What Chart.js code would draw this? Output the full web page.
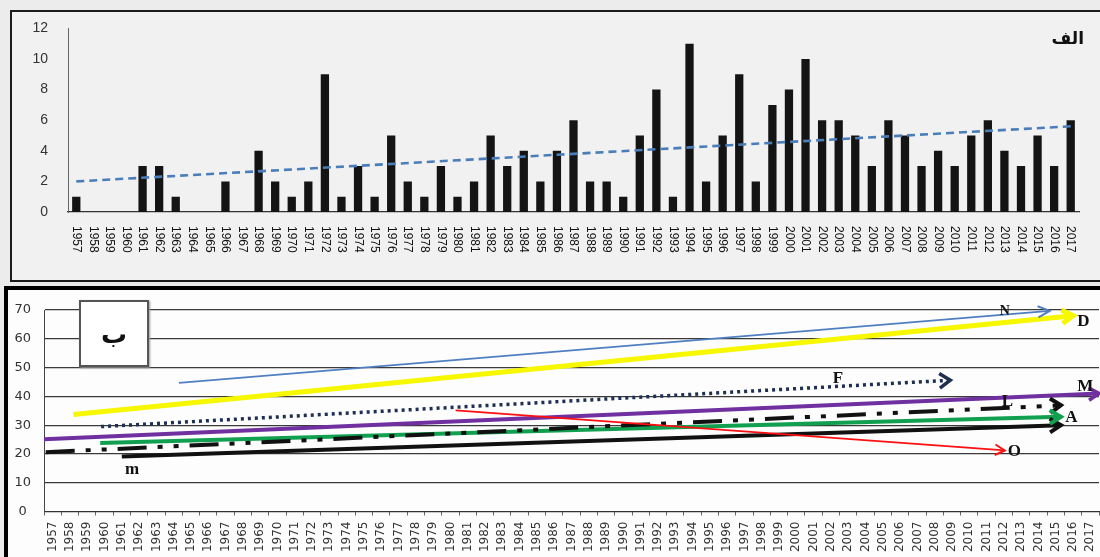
<!DOCTYPE html>
<html><head><meta charset="utf-8">
<script src="https://cdn.jsdelivr.net/npm/chart.js@4.4.1/dist/chart.umd.min.js"></script>
<style>
html,body{margin:0;padding:0;background:#ececec;width:1100px;height:557px;overflow:hidden;position:relative;}
#topFrame{position:absolute;left:10px;top:10px;width:1100px;height:272px;border:2px solid #1b1b1b;box-sizing:border-box;background:#f1f1f1;}
#botFrame{position:absolute;left:4px;top:286px;width:1110px;height:290px;border-left:4px solid #000;border-top:4px solid #000;box-sizing:border-box;background:#fdfdfd;}
#c1{position:absolute;left:0;top:0;}
#c2{position:absolute;left:0;top:287px;}
#alef{position:absolute;right:16px;top:28px;font:bold 17px 'DejaVu Sans',sans-serif;color:#111;direction:rtl;}
#beBox{position:absolute;left:79px;top:300px;width:70px;height:67px;border:2px solid #555;box-sizing:border-box;background:#fff;display:flex;align-items:center;justify-content:center;font:bold 26px 'DejaVu Sans',sans-serif;color:#111;box-shadow:1px 1px 2px #999;}
</style>
</head>
<body>
<div id="topFrame"></div>
<div id="botFrame"></div>
<canvas id="c1" width="1100" height="283"></canvas>
<canvas id="c2" width="1100" height="270"></canvas>
<div id="alef">الف</div>
<div id="beBox">ب</div>
<script>
// ---------- data ----------
const years = ['1957','1958','1959','1960','1961','1962','1963','1964','1965','1966','1967','1968','1969','1970','1971','1972','1973','1974','1975','1976','1977','1978','1979','1980','1981','1982','1983','1984','1985','1986','1987','1988','1989','1990','1991','1992','1993','1994','1995','1996','1997','1998','1999','2000','2001','2002','2003','2004','2005','2006','2007','2008','2009','2010','2011','2012','2013','2014','2015','2016','2017'];
const countValues = [1,0,0,0,3,3,1,0,0,2,0,4,2,1,2,9,1,3,1,5,2,1,3,1,2,5,3,4,2,4,6,2,2,1,5,8,1,11,2,5,9,2,7,8,10,6,6,5,3,6,5,3,4,3,5,6,4,3,5,3,6];
const trendYears = ['1957','2017'];
const trendValues = [2.0, 5.6];
const topTicks = [0,2,4,6,8,10,12];

// bottom panel: trend arrows [year, value] start / end
const lineN = [[1964.3,44.7],[2014.65,69.7]];
const lineD = [[1958.2,33.7],[2016.0,68.0]];
const lineF = [[1959.8,29.5],[2008.9,45.6]];
const lineM = [[1956.5,25.1],[2017.5,41.0]];
const lineL = [[1956.6,20.6],[2015.3,36.9]];
const lineA = [[1959.75,23.8],[2015.3,32.9]];
const lineSmallM = [[1961.0,19.1],[2015.3,30.0]];
const lineO = [[1980.3,35.1],[2012.05,21.2]];

const letterText = ['N','D','F','M','L','A','O','m'];
const letterYear = [2012.05,2016.6,2002.4,2016.7,2012.2,2015.9,2012.6,1961.6];
const letterValue = [69.4,66.1,46.2,43.5,38.1,32.6,20.8,14.4];

// ---------- helpers ----------
const toXY = arr => arr.map(p => ({x:p[0], y:p[1]}));

const topLabelPlugin = {
  id:'vlabels',
  afterDraw(chart){
    const sx = chart.scales.x, ctx = chart.ctx;
    ctx.save();
    ctx.font = '12px "Liberation Sans"';
    ctx.fillStyle = '#111';
    ctx.textAlign = 'left';
    ctx.textBaseline = 'middle';
    years.forEach((y,i)=>{
      const x = sx.getPixelForValue(i);
      ctx.save();
      ctx.translate(x, sx.top + 14);
      ctx.rotate(Math.PI/2);
      ctx.fillText(y, 0, 0);
      ctx.restore();
    });
    ctx.restore();
  }
};

const arrowPlugin = {
  id:'arrows',
  afterDatasetsDraw(chart){
    const ctx = chart.ctx;
    chart.data.datasets.forEach((ds,i)=>{
      if(!ds.arrow) return;
      const pts = chart.getDatasetMeta(i).data;
      const a = pts[pts.length-2], b = pts[pts.length-1];
      const ang = Math.atan2(b.y-a.y, b.x-a.x);
      const L = ds.arrow.size, s = ds.arrow.spread;
      ctx.save();
      ctx.strokeStyle = ds.arrow.color || ds.borderColor;
      ctx.lineWidth = ds.arrow.width;
      ctx.lineCap = 'butt';
      ctx.lineJoin = 'miter';
      ctx.setLineDash([]);
      ctx.beginPath();
      ctx.moveTo(b.x - L*Math.cos(ang-s), b.y - L*Math.sin(ang-s));
      ctx.lineTo(b.x, b.y);
      ctx.lineTo(b.x - L*Math.cos(ang+s), b.y - L*Math.sin(ang+s));
      ctx.stroke();
      ctx.restore();
    });
  }
};

const letterPlugin = {
  id:'letters',
  afterDatasetsDraw(chart){
    const sx = chart.scales.xl, sy = chart.scales.y, ctx = chart.ctx;
    ctx.save();
    ctx.fillStyle = '#111';
    ctx.textAlign = 'center';
    ctx.textBaseline = 'middle';
    letterText.forEach((t,i)=>{
      ctx.font = (t==='N' ? 'bold 14px' : 'bold 17px') + ' "Liberation Serif"';
      ctx.fillText(t, sx.getPixelForValue(letterYear[i]), sy.getPixelForValue(letterValue[i]));
    });
    ctx.restore();
  }
};

// ---------- top chart ----------
new Chart(document.getElementById('c1'), {
  type:'bar',
  data:{
    labels: years,
    datasets:[
      {type:'line', data: trendYears.map((y,i)=>({x:y, y:trendValues[i]})), borderColor:'#4a7ebb', borderWidth:2.6, borderDash:[8,5], pointRadius:0, order:0},
      {type:'bar', data: countValues, backgroundColor:'#141414', barPercentage:0.5, categoryPercentage:1, order:1}
    ]
  },
  options:{
    responsive:false, animation:false, events:[],
    layout:{padding:{top:27,right:21,left:0,bottom:0}},
    plugins:{legend:{display:false}, tooltip:{enabled:false}},
    scales:{
      x:{grid:{display:false, drawTicks:false}, border:{display:true, color:'#333', width:1.2}, ticks:{display:false}, afterFit(s){s.height = 71; s.paddingLeft = 0; s.paddingRight = 0;}},
      y:{min:0, max:12, afterBuildTicks(s){ s.ticks = topTicks.map(v=>({value:v})); },
         ticks:{padding:20, color:'#333', font:{family:'Liberation Sans', size:14}},
         grid:{display:false, drawTicks:false}, border:{display:true, color:'#666', width:1},
         afterFit(s){s.width = 68;}}
    }
  },
  plugins:[topLabelPlugin]
});

// ---------- bottom chart ----------
const mk = (arr, color, width, dash, arrow) => ({data: toXY(arr), xAxisID:'xl', yAxisID:'y', borderColor:color, borderWidth:width, borderDash:dash, pointRadius:0, clip:false, tension:0, arrow});
new Chart(document.getElementById('c2'), {
  type:'line',
  data:{
    labels: years,
    datasets:[
      mk(lineO, '#ff1010', 1.8, [], {size:11, spread:0.5, width:2}),
      mk(lineN, '#4f7fc0', 1.8, [], {size:13, spread:0.45, width:2}),
      mk(lineF, '#1f2f52', 3.5, [3,4], {size:13, spread:0.6, width:3.5}),
      mk(lineL, '#111', 4, [29,11,5,11,5,11], {size:13, spread:0.6, width:4}),
      mk(lineSmallM, '#111', 4, [], {size:13, spread:0.55, width:4}),
      mk(lineA, '#10a050', 4, [], {size:13, spread:0.55, width:4}),
      mk(lineM, '#7030a0', 4, [], {size:12, spread:0.55, width:3.5}),
      mk(lineD, '#f7f700', 5, [], {size:13, spread:0.55, width:5})
    ]
  },
  options:{
    responsive:false, animation:false, events:[],
    layout:{padding:{top:23,right:1,left:0,bottom:0}},
    plugins:{legend:{display:false}, tooltip:{enabled:false}},
    scales:{
      x:{type:'category', offset:true,
         grid:{display:true, drawOnChartArea:false, drawTicks:true, tickLength:4, offset:true, color:'#666'},
         border:{display:true, color:'#333', width:1},
         ticks:{autoSkip:false, minRotation:90, maxRotation:90, padding:6, color:'#333', font:{family:'DejaVu Sans', size:12}},
         afterFit(s){s.height = 45.5; s.paddingLeft = 0; s.paddingRight = 0;}},
      xl:{type:'linear', display:false, min:1956.5, max:2017.5},
      y:{min:0, max:70, ticks:{stepSize:10, color:'#333', font:{family:'DejaVu Sans', size:13}, crossAlign:'center', padding:13},
         grid:{color:'#3a3a3a', lineWidth:1.2, drawTicks:false},
         border:{display:true, color:'#444', width:1},
         afterFit(s){s.width = 44; s.paddingTop = 0; s.paddingBottom = 0;}}
    }
  },
  plugins:[arrowPlugin, letterPlugin]
});
</script>
</body></html>
